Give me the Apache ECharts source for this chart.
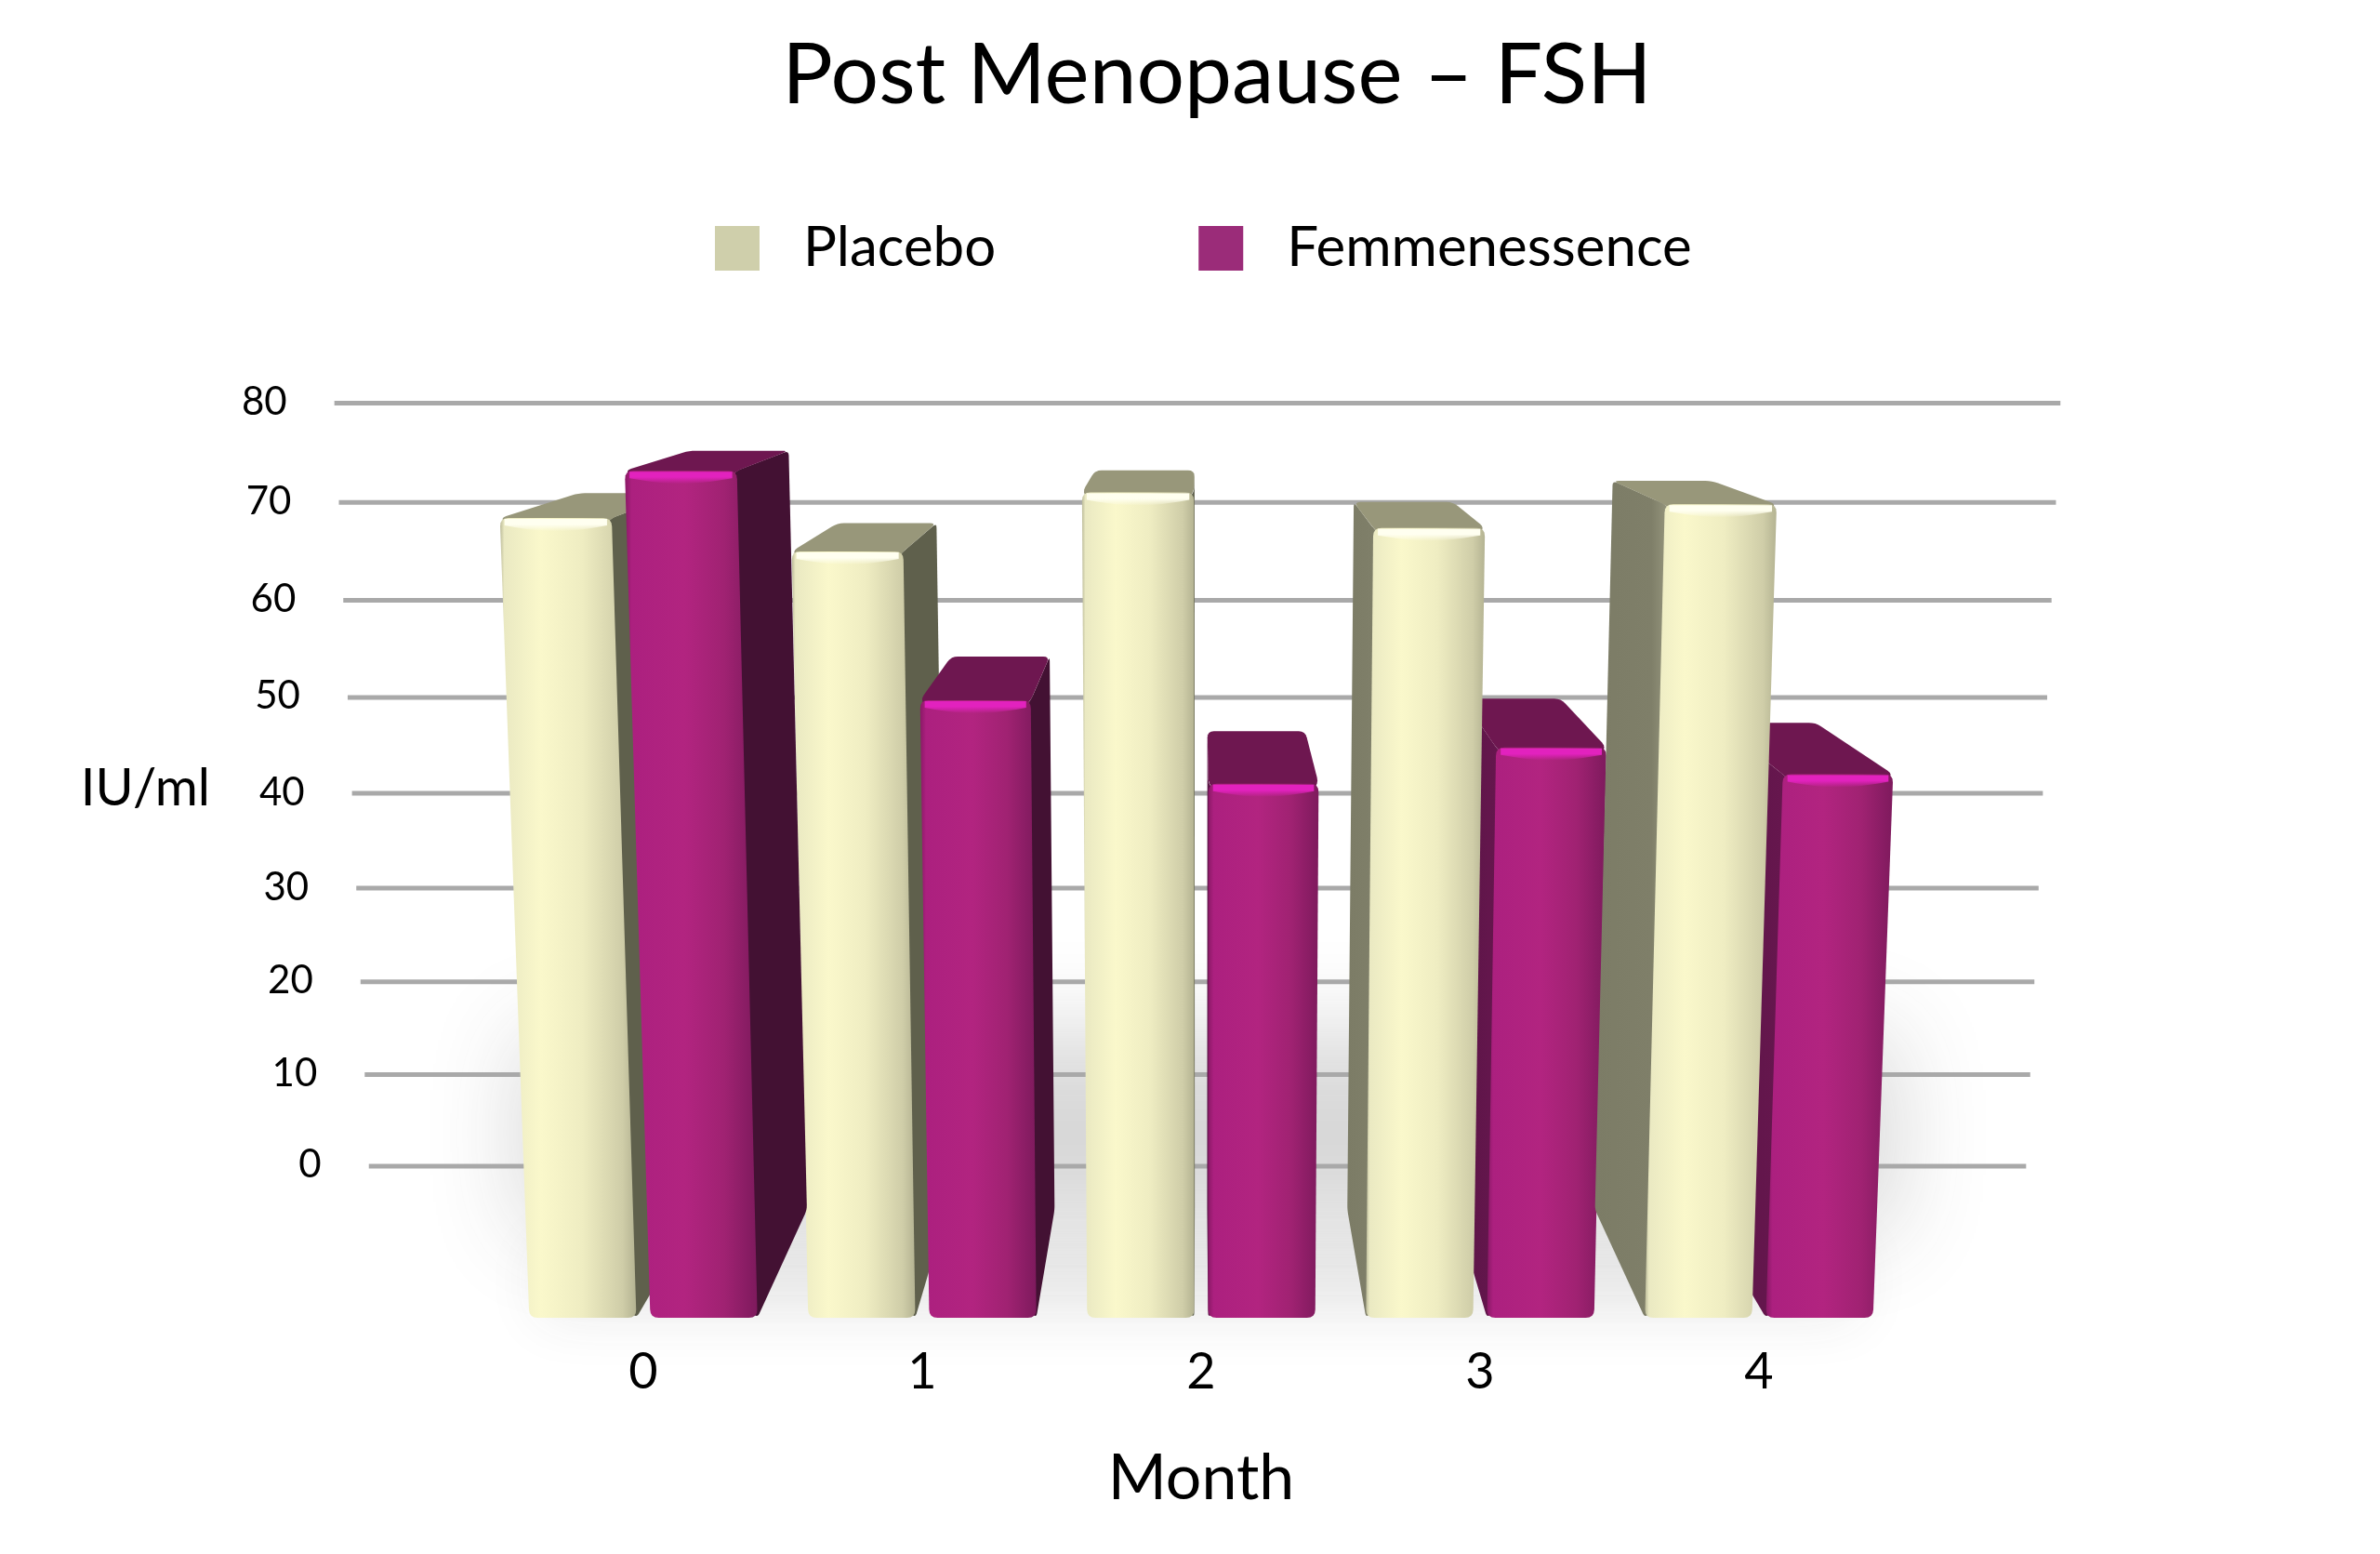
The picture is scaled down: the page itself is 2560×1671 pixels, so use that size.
<!DOCTYPE html>
<html><head><meta charset="utf-8">
<style>html,body{margin:0;padding:0;background:#fff}#c{width:2560px;height:1671px}</style>
<script src="https://cdn.jsdelivr.net/npm/echarts@6/dist/echarts.min.js"></script>
</head><body><div id="c"></div>
<script>
const months = ['0','1','2','3','4'];
const placebo = [68.4, 65.0, 71.0, 67.4, 69.8];
const femmenessence = [73.2, 49.7, 41.0, 44.8, 42.0];
const yTicks = [0,10,20,30,40,50,60,70,80];

const FONT = 'Lato';
const AXIS_MIN = -15.9, AXIS_MAX = 80;
// apparent perspective of the wall: equal steps get wider toward the top
const warp = v => v + 0.00057 * v * (v - 80);
const LEAN = 5.1e-5, DEPTH_X = 0.112, DEPTH_Y = 0.104, HORIZON = 300;

function frame(api){
  const floorY = api.coord([0, AXIS_MIN])[1];
  const cx = api.coord([2, 0])[0] - 2;
  const band = api.size([1, 0])[0];
  const lean = (x, y) => [cx + (x - cx) * (1 + LEAN * (floorY - y)), y];
  const deep = p => [p[0] + DEPTH_X * (cx - p[0]), p[1] - DEPTH_Y * (p[1] - HORIZON)];
  return {floorY, cx, band, lean, deep};
}
function roundPoly(pts, r){
  const out = [], n = pts.length;
  for (let i = 0; i < n; i++){
    const p = pts[i], a = pts[(i - 1 + n) % n], b = pts[(i + 1) % n];
    const la = Math.hypot(a[0]-p[0], a[1]-p[1]), lb = Math.hypot(b[0]-p[0], b[1]-p[1]);
    const ra = Math.min(r, la/2.2), rb = Math.min(r, lb/2.2);
    const s = [p[0]+(a[0]-p[0])*ra/la, p[1]+(a[1]-p[1])*ra/la];
    const e = [p[0]+(b[0]-p[0])*rb/lb, p[1]+(b[1]-p[1])*rb/lb];
    for (let t = 0; t <= 1.001; t += 0.25){
      const u = 1 - t;
      out.push([u*u*s[0]+2*u*t*p[0]+t*t*e[0], u*u*s[1]+2*u*t*p[1]+t*t*e[1]]);
    }
  }
  return out;
}
function hGrad(stops){
  return {type:'linear',x:0,y:0,x2:1,y2:0,colorStops:stops.map(s=>({offset:s[0],color:s[1]}))};
}
const themes = {
  placebo: {
    front: hGrad([[0,'#BDBC9A'],[0.03,'#EAE9C2'],[0.3,'#FAF8CB'],[0.6,'#EFEDC2'],[0.9,'#CFCDA8'],[1,'#B4B392']]),
    top:'#98977A', sideR:'#5F604C', sideL:hGrad([[0,'#7C7C66'],[0.7,'#7F7F69'],[1,'#A0A086']]),
    hi:'rgba(255,255,240,1)', hiEnd:'rgba(255,255,240,0)', off:-0.217
  },
  femme: {
    front: hGrad([[0,'#8A1966'],[0.05,'#AC207F'],[0.45,'#B22480'],[0.75,'#A02272'],[1,'#7E1A5D']]),
    top:'#6E1750', sideR:'#431133', sideL:hGrad([[0,'#5A1446'],[1,'#68174F']]),
    hi:'rgba(226,34,190,1)', hiEnd:'rgba(226,34,190,0)', off:0.217
  }
};
function barRenderer(theme, order){
  const t = themes[theme];
  return function(params, api){
    const f = frame(api), i = api.value(0), v = warp(api.value(1));
    const yTop = api.coord([i, v])[1];
    const bx = api.coord([i, v])[0] + t.off * f.band;
    const half = 0.192 * f.band;
    const x0 = bx - half, x1 = bx + half;
    const ftl = f.lean(x0, yTop), ftr = f.lean(x1, yTop), fbl = f.lean(x0, f.floorY), fbr = f.lean(x1, f.floorY);
    const btl = f.deep(ftl), btr = f.deep(ftr), bbl = f.deep(fbl), bbr = f.deep(fbr);
    const z = order(i) * 10;
    const children = [];
    const poly = (pts, fill, z2) => children.push({type:'polygon', z2, silent:true, shape:{points:pts}, style:{fill, stroke:null}});
    // faces run a few pixels under the front face so that its rounded corners leave no gap
    const U = 12;
    if (btr[0] > ftr[0]) poly(roundPoly([[ftr[0]-U,ftr[1]+U], ftr, btr, bbr, fbr, [fbr[0]-U,fbr[1]-U]], 5), t.sideR, z);
    if (btl[0] < ftl[0]) poly(roundPoly([[ftl[0]+U,ftl[1]+U], ftl, btl, bbl, fbl, [fbl[0]+U,fbl[1]-U]], 5), t.sideL, z);
    poly(roundPoly([[ftl[0]+U,ftl[1]+U], ftl, btl, btr, ftr, [ftr[0]-U,ftr[1]+U]], 7), t.top, z + 1);
    poly(roundPoly([ftl, ftr, fbr, fbl], 9), t.front, z + 2);
    const band = [];
    const w = ftr[0] - ftl[0];
    for (let k = 0; k <= 10; k++) band.push([ftl[0] + 5 + (w - 10) * k / 10, yTop + 1]);
    for (let k = 10; k >= 0; k--) band.push([ftl[0] + 5 + (w - 10) * k / 10, yTop + 8 + 6 * Math.sin(Math.PI * k / 10)]);
    children.push({type:'polygon', z2:z+3, silent:true, shape:{points:band},
      style:{fill:{type:'linear',x:0,y:0,x2:0,y2:1,colorStops:[{offset:0,color:t.hi},{offset:0.45,color:t.hi},{offset:1,color:t.hiEnd}]}}});
    return {type:'group', children};
  };
}
function gridRenderer(params, api){
  const f = frame(api), tick = api.value(1);
  const y = api.coord([2, warp(tick)])[1];
  const a = f.lean(f.cx - 2.953 * f.band, y), b = f.lean(f.cx + 2.94 * f.band, y);
  return {type:'group', children:[
    {type:'line', z2:-5, silent:true, shape:{x1:a[0], y1:y, x2:b[0], y2:y}, style:{stroke:'#A9A9A9', lineWidth:5}},
    {type:'text', z2:-5, silent:true, style:{text:String(tick), x:a[0]-51, y:y-1, align:'right', verticalAlign:'middle',
      font:'42px '+FONT, fill:'#000'}}
  ]};
}
function shadowRenderer(params, api){
  const f = frame(api);
  const OFF = 4000; // the rectangles sit off the page: only their blurred shadows land on it
  const box = (l, r, t, b, blur, color) => ({type:'polygon', z2:-10, silent:true,
    shape:{points:[[l-OFF,t],[r-OFF,t],[r-OFF,b],[l-OFF,b]]},
    style:{fill:'#000', shadowBlur:blur, shadowColor:color, shadowOffsetX:OFF}});
  const l = api.coord([0, 0])[0] - 0.44 * f.band, r = api.coord([4, 0])[0] + 0.49 * f.band;
  return {type:'group', children:[
    box(l, r, api.coord([0, 14])[1], api.coord([0, -7])[1], 100, 'rgba(60,60,60,0.20)'),
    box(l + 20, r - 40, api.coord([0, -8])[1], f.floorY + 2, 60, 'rgba(60,60,60,0.09)')
  ]};
}
const chart = echarts.init(document.getElementById('c'), null, {renderer:'canvas'});
chart.setOption({
  animation:false,
  backgroundColor:'#fff',
  title:{text:'Post Menopause – FSH', left:1304, top:31, textAlign:'center',
    textStyle:{fontFamily:FONT, fontWeight:'normal', fontSize:91, color:'#000'}},
  legend:{left:764, top:232, itemWidth:48, itemHeight:48, itemGap:218, selectedMode:false, icon:'rect',
    data:['Placebo','Femmenessence'],
    textStyle:{fontFamily:FONT, fontSize:60, color:'#000', padding:[0,0,0,42]}},
  grid:{left:542, width:1500, top:433.5, height:983.5, containLabel:false},
  xAxis:{type:'category', data:months, axisLine:{show:false}, axisTick:{show:false}, splitLine:{show:false},
    axisLabel:{fontFamily:FONT, fontSize:54, color:'#000', margin:32},
    name:'Month', nameLocation:'middle', nameGap:139,
    nameTextStyle:{fontFamily:FONT, fontSize:68, color:'#000'}},
  yAxis:{type:'value', min:AXIS_MIN, max:AXIS_MAX, axisLine:{show:false}, axisTick:{show:false},
    axisLabel:{show:false}, splitLine:{show:false},
    name:'IU/ml\n\n', nameLocation:'middle', nameRotate:0, nameGap:316,
    nameTextStyle:{fontFamily:FONT, fontSize:56, color:'#000', lineHeight:77}},
  series:[
    {type:'custom', name:'shadow', z:2, data:[[2,0]], encode:{x:0,y:1}, renderItem:shadowRenderer, silent:true},
    {type:'custom', name:'gridlines', z:2, data:yTicks.map(t=>[2,t]), encode:{x:0,y:1}, renderItem:gridRenderer, silent:true},
    {type:'custom', name:'Placebo', z:2, itemStyle:{color:'#CFCFAB'}, data:placebo.map((v,i)=>[i,v]), encode:{x:0,y:1},
      renderItem:barRenderer('placebo', i=> i<3 ? 1 : 2)},
    {type:'custom', name:'Femmenessence', z:2, itemStyle:{color:'#9B2C79'}, data:femmenessence.map((v,i)=>[i,v]), encode:{x:0,y:1},
      renderItem:barRenderer('femme', i=> i<3 ? 2 : 1)}
  ]
});
</script></body></html>
